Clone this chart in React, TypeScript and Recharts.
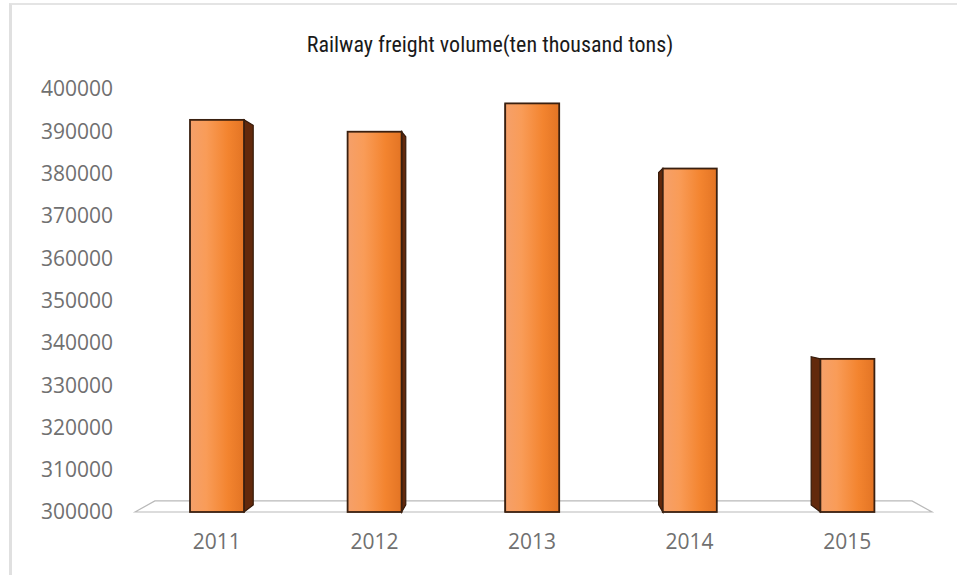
import React from 'react';
import { BarChart, Bar, XAxis, YAxis, ReferenceArea } from 'recharts';

const years = ['2011', '2012', '2013', '2014', '2015'];
const freight = [392700, 389900, 396600, 381200, 336200];
const yTicks = [300000, 310000, 320000, 330000, 340000, 350000, 360000, 370000, 380000, 390000, 400000];

const data = years.map((year, i) => ({ year, freight: freight[i] }));

// vanishing point for the fake 3D look
const VX = 532;
const VY = 290;
const BAR_DEPTH = 0.032;
const FLOOR_DEPTH = 0.05;

const toBack = (px: number, py: number, k: number) => [px + (VX - px) * k, py + (VY - py) * k];

const Box3D = (props: any) => {
  const { x, y, width, height, index } = props;
  const right = x + width;
  const bottom = y + height;
  const edge = x + width / 2 < VX ? right : x;
  const [bx1, by1] = toBack(edge, y, BAR_DEPTH);
  const [bx2, by2] = toBack(edge, bottom, BAR_DEPTH);
  const id = `front-${index}`;
  return (
    <g>
      <defs>
        <linearGradient id={id} x1="0" y1="0" x2="1" y2="0">
          <stop offset="0%" stopColor="#f5a06a" />
          <stop offset="30%" stopColor="#f99c58" />
          <stop offset="70%" stopColor="#f3842f" />
          <stop offset="100%" stopColor="#e37424" />
        </linearGradient>
      </defs>
      <polygon
        points={`${edge},${y} ${bx1},${by1} ${bx2},${by2} ${edge},${bottom}`}
        fill="#62290c"
        stroke="#351a0a"
        strokeWidth={1.2}
      />
      <rect x={x} y={y} width={width} height={height} fill={`url(#${id})`} stroke="#3a2010" strokeWidth={1.8} />
    </g>
  );
};

const Floor = (props: any) => {
  const { x, y, width, height } = props;
  const yb = y + height;
  const fl = x - 3;
  const fr = x + width + 6;
  const [blx, bly] = toBack(fl, yb, FLOOR_DEPTH);
  const [brx, bry] = toBack(fr, yb, FLOOR_DEPTH);
  return (
    <polygon
      points={`${fl},${yb} ${blx},${bly} ${brx},${bry} ${fr},${yb}`}
      fill="#ffffff"
      stroke="#b9b9b9"
      strokeWidth={1.2}
    />
  );
};

const tickStyle = { fill: '#707070', fontSize: 21, fontFamily: '"Open Sans", sans-serif' };

export default function App() {
  return (
    <div style={{ position: 'absolute', left: 0, top: 0, width: 957, height: 575, background: '#fff' }}>
      <div
        style={{
          position: 'absolute',
          left: 9,
          top: 3,
          width: 948,
          height: 572,
          borderLeft: '3px solid #e0e0e0',
          borderTop: '2px solid #e4e4e4',
          boxSizing: 'border-box',
        }}
      />
      <div
        style={{
          position: 'absolute',
          left: 240,
          top: 32,
          width: 500,
          textAlign: 'center',
          fontFamily: '"Liberation Sans Narrow", "Roboto Condensed", Roboto, sans-serif',
          fontSize: 22,
          lineHeight: '25px',
          color: '#1a1a1a',
        }}
      >
        Railway freight volume(ten thousand tons)
      </div>
      <BarChart
        width={957}
        height={575}
        data={data}
        margin={{ top: 89, right: 31, left: 0, bottom: 23 }}
        style={{ position: 'absolute', left: 0, top: 0 }}
      >
        <YAxis
          width={138}
          domain={[300000, 400000]}
          ticks={yTicks}
          interval={0}
          axisLine={false}
          tickLine={false}
          tickSize={0}
          tickMargin={25}
          tick={tickStyle}
        />
        <XAxis
          dataKey="year"
          height={40}
          axisLine={false}
          tickLine={false}
          tickSize={0}
          tickMargin={22}
          tick={tickStyle}
        />
        <ReferenceArea y1={300000} y2={301000} shape={<Floor />} ifOverflow="visible" />
        <Bar dataKey="freight" barSize={54} shape={<Box3D />} isAnimationActive={false} />
      </BarChart>
    </div>
  );
}
